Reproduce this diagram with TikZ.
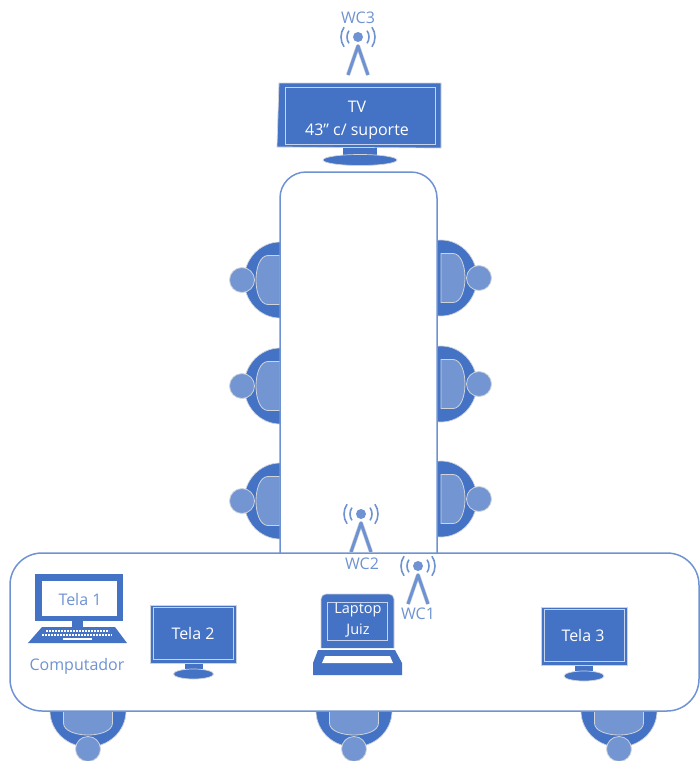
\documentclass[tikz,border=0pt]{standalone}
\usepackage{fontspec}
\setmainfont{Open Sans}
\definecolor{azul}{HTML}{4472C4}
\definecolor{azulclaro}{HTML}{7396D3}
\definecolor{contorno}{HTML}{6F93D2}
\definecolor{halo}{HTML}{CFD3DA}
\definecolor{borda}{HTML}{C5D3EC}

\begin{document}
\begin{tikzpicture}[x=1pt, y=-1pt, font=\fontsize{16}{20}\selectfont]
    \tikzset{
        mesa/.style     =   { rectangle
                            , rounded corners=26pt
                            , draw=contorno
                            , fill=white
                            , line width=1.5pt
                            , inner sep=0pt
        }
        , escuro/.style =   { fill=azul
                            , draw=halo
                            , line width=0.7pt
        }
        , claro/.style  =   { fill=azulclaro
                            , draw=halo
                            , line width=0.8pt
        }
        , tela/.style   =   { fill=azul
                            , draw=halo
                            , line width=0.7pt
        }
        , quadro/.style =   { draw=borda
                            , line width=0.8pt
        }
        , branco/.style =   { text=white }
        , rotulo/.style =   { text=contorno }
        , cadeira/.pic  =   {
            \draw[escuro] (0,0) ellipse [x radius=36, y radius=38];
            \draw[claro]  (0,-24.5) -- (-12,-24.5)
                          .. controls (-20,-24.5) and (-24,-12) .. (-24,0)
                          .. controls (-24,12) and (-20,24.5) .. (-12,24.5)
                          -- (0,24.5) -- cycle;
            \draw[claro]  (-38,0) circle (12.5);
        }
        , antena/.pic   =   {
            \draw[halo, line width=4.2pt, line join=round]
                (-10,38) -- (0,9) -- (10,38);
            \draw[contorno, line width=3pt, line join=round]
                (-10,38) -- (0,9) -- (10,38);
            \fill[contorno] (0,0) circle (5);
            \foreach \r in {11,17} {
                \draw[contorno, line width=1.6pt] (145:\r) arc (145:215:\r);
                \draw[contorno, line width=1.6pt] (35:\r) arc (35:-35:\r);
            }
        }
        , monitor/.pic  =   {
            \fill[azul] (-9,0) -- (9,0) -- (9,9) -- (-9,9) -- cycle;
            \draw[tela] (0,11) ellipse [x radius=20, y radius=5];
            \draw[tela] (-43,-58) rectangle (43,0);
            \draw[quadro] (-40,-55.5) rectangle (40,-3.5);
        }
    }
    \useasboundingbox (0,0) rectangle (700,761);

    % cadeiras
    \foreach \y in {280,386,501} {
        \pic at (280,\y) {cadeira};
        \pic[rotate=180] at (441,\y-2) {cadeira};
    }
    \foreach \x in {88,354,619} {
        \pic[rotate=90] at (\x,711) {cadeira};
    }

    % mesas
    \node(mesaTV)[mesa, minimum width=157pt, minimum height=410pt] at (358.5,377) {};
    \node(mesaJuiz)[mesa, rounded corners=32pt, minimum width=689pt, minimum height=158pt] at (354.5,632) {};

    % TV
    \fill[azul] (343,146) rectangle (377,158);
    \draw[tela] (360,160) ellipse [x radius=37, y radius=5.5];
    \draw[tela] (279,83) -- (441,83) -- (441,148) -- (277,147) -- cycle;
    \draw[quadro] (285,87) rectangle (435,144);
    \node(tv)[branco, align=center] at (357,120) {TV\\[3pt]43\symbol{34} c/ suporte};
    \pic at (358,37) {antena};
    \node(wc3)[rotulo] at (358,18) {WC3};

    % computador
    \fill[azul] (72,620) rectangle (83,628);
    \fill[azul] (35,574) rectangle (123,621);
    \fill[white] (42,581) rectangle (117,616);
    \fill[azul] (42,627) -- (115,627) -- (127,643) -- (28,643) -- cycle;
    \foreach \y/\a/\b in {631/46/109,635/42/112} {
        \draw[white, line width=1.2pt, dash pattern=on 2pt off 1pt] (\a,\y) -- (\b,\y);
    }
    \draw[white, line width=1.2pt] (63,639) -- (92,639);
    \node(tela1)[rotulo] at (80,599) {Tela 1};
    \node(computador)[rotulo] at (77,666) {Computador};

    % telas
    \pic at (193.5,663) {monitor};
    \node(tela2)[branco] at (193,633) {Tela 2};
    \pic at (584,665) {monitor};
    \node(tela3)[branco] at (583,635) {Tela 3};

    % laptop
    \draw[tela, rounded corners=5pt] (321,648) -- (321,594) -- (394,594) -- (394,648);
    \draw[quadro] (327,602) rectangle (387,640);
    \fill[azul] (318,650) -- (395,650) -- (402,663) -- (402,675) -- (313,675) -- (313,663) -- cycle;
    \fill[white] (322,663) -- (325,656) -- (390,656) -- (393,663) -- cycle;
    \node(laptop)[branco, font=\fontsize{14.5}{18}\selectfont] at (358,610) {Laptop};
    \node(juiz)[branco, font=\fontsize{14.5}{18}\selectfont] at (358,631) {Juiz};

    % antenas da mesa
    \pic at (361,514) {antena};
    \node(wc2)[rotulo] at (362,564) {WC2};
    \pic at (418,566) {antena};
    \node(wc1)[rotulo] at (418,614) {WC1};
\end{tikzpicture}
\end{document}
